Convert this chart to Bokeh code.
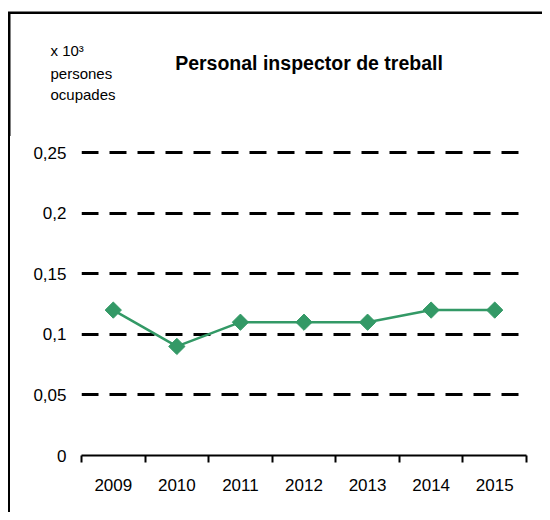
from bokeh.plotting import figure
from bokeh.layouts import column, row
from bokeh.models import Range1d, FixedTicker, ColumnDataSource
from bokeh.core.properties import value
from bokeh.embed import file_html
from bokeh.resources import INLINE
import math

# ---- data ----
years = ["2009", "2010", "2011", "2012", "2013", "2014", "2015"]
values = [0.12, 0.09, 0.11, 0.11, 0.11, 0.12, 0.12]
y_ticks = [0, 0.05, 0.1, 0.15, 0.2, 0.25]
y_tick_labels = ["0", "0,05", "0,1", "0,15", "0,2", "0,25"]
title_text = "Personal inspector de treball"
unit_lines = ["x 10\u00b3", "persones", "ocupades"]

FONT = "Liberation Sans"
GREEN = "#339966"
W, HEAD_H, MAIN_H, OFFS = 542, 136, 376, 10
BORDER_X, BORDER_Y, BORDER_W = 8.75, 12.2, 2.5

# ---- header: title, unit text, top/left border ----
head = figure(width=W, height=HEAD_H, output_backend="svg", toolbar_location=None,
              x_range=Range1d(0, W), y_range=Range1d(HEAD_H, 0),
              x_axis_type=None, y_axis_type=None, min_border=0)
head.outline_line_color = None
head.xgrid.visible = False
head.ygrid.visible = False
head.border_fill_color = "white"
head.background_fill_color = "white"
head.line([BORDER_X, BORDER_X, W], [HEAD_H, BORDER_Y, BORDER_Y],
          line_color="black", line_width=BORDER_W, line_join="miter")
head.text(x=[308.5], y=[62], text=[title_text], text_font=value(FONT),
          text_font_size="19.5px", text_font_style="bold", text_color="black",
          text_align="center", text_baseline="alphabetic")
head.text(x=[50] * len(unit_lines), y=[50, 72.5, 94], text=unit_lines,
          text_font=value(FONT), text_font_size="15px", text_color="black",
          text_align="left", text_baseline="alphabetic")

# ---- main chart ----
x_pos = [i + 0.5 for i in range(len(years))]
src = ColumnDataSource(dict(x=x_pos, y=values))

p = figure(width=W - OFFS, height=MAIN_H, output_backend="svg", toolbar_location=None,
           x_range=Range1d(0, len(years)), y_range=Range1d(0, 0.255),
           min_border_left=81 - OFFS, min_border_right=16, min_border_top=146 - HEAD_H,
           min_border_bottom=57)
p.outline_line_color = None
p.background_fill_color = "white"
p.border_fill_color = "white"

p.xgrid.visible = False
p.ygrid.ticker = FixedTicker(ticks=[t for t in y_ticks if t > 0])
p.ygrid.grid_line_color = "black"
p.ygrid.grid_line_width = 3
p.ygrid.grid_line_dash = "17 11"

p.yaxis.ticker = FixedTicker(ticks=y_ticks)
p.yaxis.major_label_overrides = {t: l for t, l in zip(y_ticks, y_tick_labels)}
p.yaxis.axis_line_color = None
p.yaxis.major_tick_line_color = None
p.yaxis.minor_tick_line_color = None
p.yaxis.major_tick_out = 0
p.yaxis.major_tick_in = 0
p.yaxis.minor_tick_out = 0
p.yaxis.minor_tick_in = 0
p.yaxis.major_label_standoff = 15
p.yaxis.major_label_text_font = FONT
p.yaxis.major_label_text_font_size = "17px"
p.yaxis.major_label_text_color = "black"

p.xaxis.ticker = FixedTicker(ticks=x_pos, minor_ticks=list(range(len(years) + 1)))
p.xaxis.major_label_overrides = {x: y for x, y in zip(x_pos, years)}
p.xaxis.axis_line_color = "black"
p.xaxis.axis_line_width = 2
p.xaxis.major_tick_line_color = None
p.xaxis.minor_tick_line_color = "black"
p.xaxis.minor_tick_line_width = 2
p.xaxis.minor_tick_in = 0
p.xaxis.minor_tick_out = 7
p.xaxis.major_label_standoff = 16
p.xaxis.major_label_text_font = FONT
p.xaxis.major_label_text_font_size = "17px"
p.xaxis.major_label_text_color = "black"

p.line("x", "y", source=src, line_color=GREEN, line_width=2.5)
p.scatter("x", "y", source=src, marker="square", angle=math.pi / 4, size=11.5,
          fill_color=GREEN, line_color=GREEN, line_width=1)

lower = row(p, spacing=0, styles={"margin-left": "7.5px",
                                  "border-left": "2.5px solid black"})
layout = column(head, lower, spacing=0)

open("out.html", "w").write(file_html(layout, INLINE))
